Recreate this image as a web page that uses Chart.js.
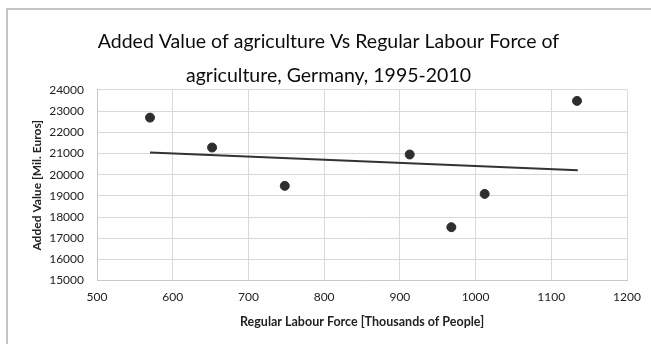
<!DOCTYPE html>
<html>
<head>
<meta charset="utf-8">
<script src="https://cdn.jsdelivr.net/npm/chart.js@4/dist/chart.umd.min.js"></script>
<style>
  html, body { margin: 0; padding: 0; background: #ffffff; }
  #wrap { position: relative; width: 651px; height: 344px; overflow: hidden; background: #ffffff; }
  #frame { position: absolute; left: 6px; top: 8px; width: 700px; height: 400px;
           border-left: 2px solid #c4c4c4; border-top: 2px solid #c4c4c4; pointer-events: none; }
  canvas { position: absolute; left: 0; top: 0; }
</style>
</head>
<body>
<div id="wrap">
  <canvas id="c" width="651" height="344"></canvas>
  <div id="frame"></div>
</div>
<script>
// Regular labour force (thousands of people) and added value (million euros)
const labourForce = [570, 652, 748, 913, 968, 1012, 1134];
const addedValue  = [22690, 21280, 19470, 20950, 17520, 19090, 23480];

// Linear trend line end points
const trendX = [570, 1135];
const trendY = [21050, 20210];

const xTicks = [500, 600, 700, 800, 900, 1000, 1100, 1200];
const yTicks = [15000, 16000, 17000, 18000, 19000, 20000, 21000, 22000, 23000, 24000];

const titleLines = ['Added Value of agriculture Vs Regular Labour Force of',
                    'agriculture, Germany, 1995-2010'];
const xTitle = 'Regular Labour Force [Thousands of People]';
const yTitle = 'Added Value [Mil. Euros]';

const FONT = 'Lato, "Open Sans", sans-serif';

const points = labourForce.map((x, i) => ({ x: x, y: addedValue[i] }));
const trend = trendX.map((x, i) => ({ x: x, y: trendY[i] }));

new Chart(document.getElementById('c'), {
  type: 'scatter',
  data: {
    datasets: [
      {
        label: 'Added Value',
        data: points,
        backgroundColor: '#2e2e2e',
        borderColor: '#2e2e2e',
        pointRadius: 4.5,
        pointHoverRadius: 4.5,
        order: 1
      },
      {
        label: 'Trend',
        type: 'line',
        data: trend,
        showLine: true,
        borderColor: '#333333',
        borderWidth: 2,
        pointRadius: 0,
        fill: false,
        order: 2
      }
    ]
  },
  options: {
    responsive: false,
    animation: false,
    devicePixelRatio: 1,
    layout: { padding: { left: 30, right: 24, top: 0, bottom: 15 } },
    plugins: {
      legend: { display: false },
      tooltip: { enabled: false },
      title: {
        display: true,
        text: titleLines,
        color: '#0c0c0c',
        font: { family: FONT, size: 19.5, weight: 'normal', lineHeight: 1.74 },
        padding: { top: 25, bottom: -3 }
      }
    },
    scales: {
      x: {
        type: 'linear',
        min: xTicks[0],
        max: xTicks[xTicks.length - 1],
        afterBuildTicks: (axis) => { axis.ticks = xTicks.map(v => ({ value: v })); },
        grid: { color: '#d9d9d9', lineWidth: 1, drawTicks: false },
        border: { color: '#c8c8c8' },
        ticks: {
          color: '#222222',
          padding: 9,
          font: { family: FONT, size: 12 },
          callback: (v) => String(v)
        },
        title: {
          display: true,
          text: xTitle,
          color: '#222222',
          font: { family: FONT, size: 12.5, weight: 'bold' },
          padding: { top: 1, bottom: 0 }
        }
      },
      y: {
        type: 'linear',
        min: yTicks[0],
        max: yTicks[yTicks.length - 1],
        afterBuildTicks: (axis) => { axis.ticks = yTicks.map(v => ({ value: v })); },
        afterFit: (axis) => { axis.width = 67; },
        grid: { color: '#d9d9d9', lineWidth: 1, drawTicks: false },
        border: { color: '#c8c8c8' },
        ticks: {
          color: '#222222',
          padding: 13,
          font: { family: FONT, size: 12 },
          callback: (v) => String(v)
        },
        title: {
          display: true,
          text: yTitle,
          color: '#222222',
          font: { family: FONT, size: 12, weight: 'bold' },
          padding: { top: 0, bottom: 4 }
        }
      }
    }
  }
});
</script>
</body>
</html>
